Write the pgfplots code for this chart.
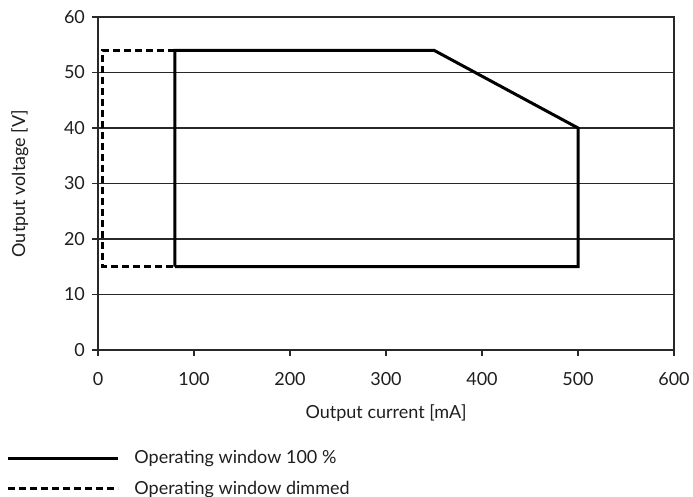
\documentclass[border=0pt]{standalone}
\usepackage{fontspec}
\setmainfont{Lato}
\usepackage{pgfplots}
\pgfplotsset{compat=1.18}
\definecolor{gridgray}{RGB}{40,40,40}
\definecolor{txt}{RGB}{30,30,30}

\begin{document}
\begin{tikzpicture}
\begin{axis}[
    scale only axis,
    width=288pt, height=166.5pt,
    xmin=0, xmax=600, ymin=0, ymax=60,
    xtick={0,100,...,600}, ytick={0,10,...,60},
    axis lines=box,
    xtick pos=left, ytick pos=left,
    tick align=outside,
    major tick length=3pt,
    tick style={gridgray, line width=0.7pt},
    axis line style={gridgray, line width=0.7pt},
    ymajorgrids,
    major grid style={gridgray, line width=0.7pt},
    font=\fontsize{9}{11}\selectfont,
    /pgf/number format/assume math mode=true,
    ticklabel style={txt},
    xticklabel style={yshift=-4.5pt},
    xlabel={Output current [mA]},
    ylabel={Output voltage [V]},
    label style={txt},
    xlabel style={yshift=-3pt},
    ylabel style={yshift=11pt},
    % invisible tail keeps the gap between line and text
    legend image code/.code={\draw[#1] (0pt,0pt) -- (55pt,0pt); \path (58.5pt,0pt);},
    legend cell align=left,
    legend style={draw=none, fill=none, at={(-0.17,-0.275)}, anchor=north west,
        row sep=3.3pt, font=\fontsize{9}{11}\selectfont\color{txt},
        nodes={inner xsep=4pt}},
]
\addplot[black, line width=1.5pt, line join=miter] coordinates {
    (80,15) (80,54) (350,54) (500,40) (500,15) (80,15)
};
\addlegendentry{Operating window 100 \%}
\addplot[black, line width=1.5pt, dash pattern=on 3.5pt off 2pt] coordinates {
    (80,54) (5,54) (5,15) (80,15)
};
\addlegendentry{Operating window dimmed}
\end{axis}
\pgfresetboundingbox
\useasboundingbox ([xshift=-49pt,yshift=-73pt]current axis.south west)
    rectangle ([xshift=9.5pt,yshift=8.5pt]current axis.north east);
\end{tikzpicture}
\end{document}
